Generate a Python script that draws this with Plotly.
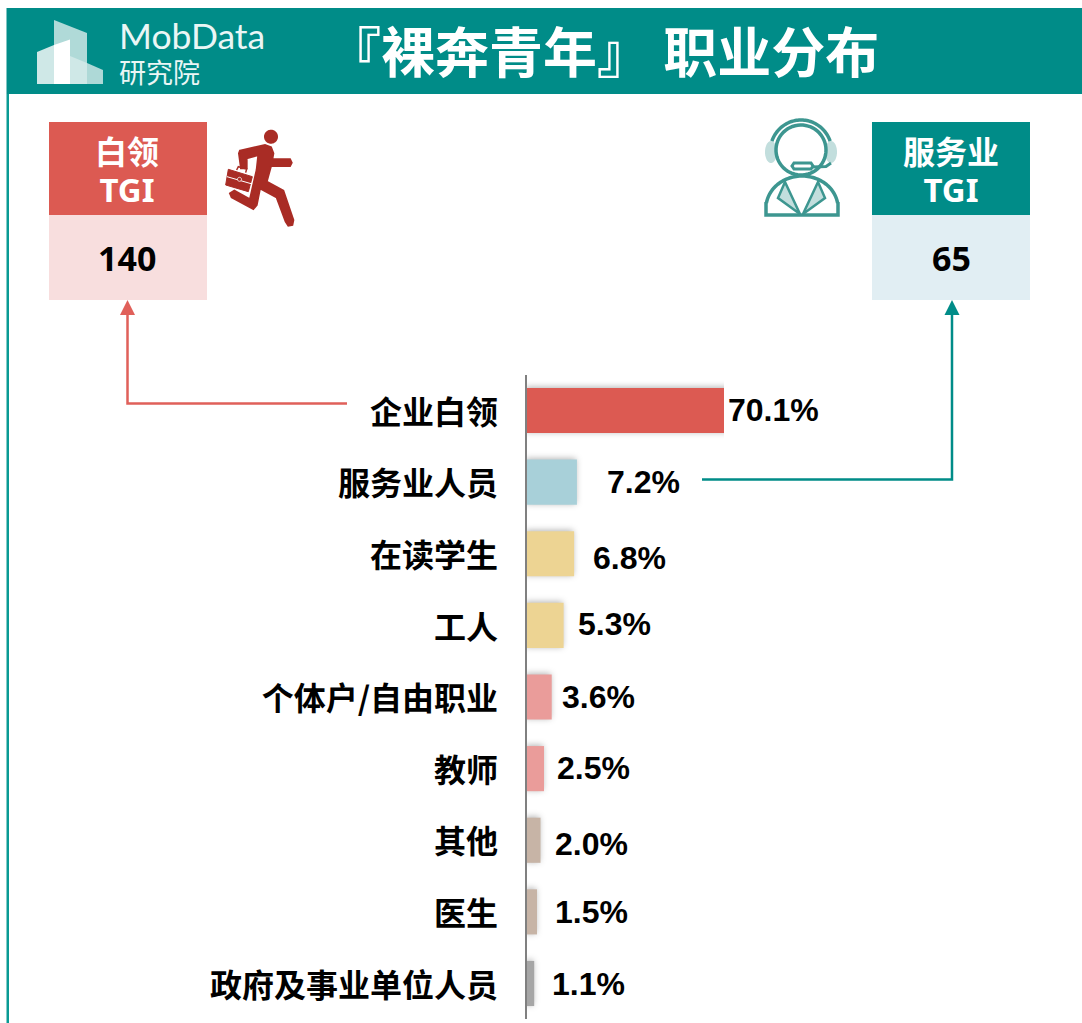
import numpy as np
import plotly.graph_objects as go

W, H = 1082, 1023

# ---- data ----
categories = ["企业白领", "服务业人员", "在读学生", "工人", "个体户/自由职业", "教师", "其他", "医生", "政府及事业单位人员"]
shares = [70.1, 7.2, 6.8, 5.3, 3.6, 2.5, 2.0, 1.5, 1.1]
value_labels = ["70.1%", "7.2%", "6.8%", "5.3%", "3.6%", "2.5%", "2.0%", "1.5%", "1.1%"]
bar_colors = ["#DC5A52", "#A8D0D9", "#EDD493", "#EDD493", "#EA9C9A", "#EA9C9A", "#C7B4A6", "#C7B4A6", "#A6A6A6"]
title_text = "『裸奔青年』 职业分布"
tgi_white_collar = "140"
tgi_service = "65"

# ---- placement of the hand-set labels (pixels) ----
label_left = [725.5, 604.5, 590.5, 575.5, 559.5, 555, 552.5, 552.5, 549.5]
label_mid = [410, 482, 558, 624, 697, 768, 844, 912, 984]

TEAL = "#008C88"
RED = "#DC5A52"
CJK = "Noto Sans CJK SC"
UI = "Noto Sans"
ARIAL = "Liberation Sans"


def px(x):
    return x / W


def py(y):
    return 1 - y / H


def poly(points, close=True):
    s = "M" + " L".join(f"{px(x):.5f},{py(y):.5f}" for x, y in points)
    return s + (" Z" if close else "")


shapes = []


def add_poly(points, fill=None, line=None, lw=0, close=True):
    shapes.append(dict(type="path", xref="paper", yref="paper", path=poly(points, close),
                       fillcolor=fill if fill else "rgba(0,0,0,0)",
                       line=dict(color=line if line else "rgba(0,0,0,0)", width=lw), layer="above"))


def add_rect(x0, y0, x1, y1, fill):
    add_poly([(x0, y0), (x1, y0), (x1, y1), (x0, y1)], fill=fill)


def ellipse(cx, cy, rx, ry, a0=0, a1=360, n=60):
    t = np.radians(np.linspace(a0, a1, n))
    return list(zip(cx + rx * np.cos(t), cy + ry * np.sin(t)))


# frame and header
add_rect(6.5, 8, W, 94, TEAL)
add_rect(6.5, 94, 9, H, "#0A9A94")

# logo
add_poly([(54, 20), (87, 33), (87, 70), (54, 70)], fill="#B0DAD8")
add_poly([(37, 52), (54, 45), (54, 84), (37, 84)], fill="#CFE8E7")
add_poly([(54, 45), (70, 39.5), (70, 84), (54, 84)], fill="#FFFFFF")
add_poly([(70, 56), (87, 63), (87, 84), (70, 84)], fill="#CFE8E7")
add_poly([(87, 63), (103, 70), (103, 84), (87, 84)], fill="#AED9D7")

# TGI boxes
add_rect(49, 122, 207, 215, RED)
add_rect(49, 215, 207, 300, "#F8DEDE")
add_rect(872, 122, 1030, 215, TEAL)
add_rect(872, 215, 1030, 300, "#E1EEF3")

# connectors
add_poly([(347, 403.5), (127.5, 403.5), (127.5, 312)], line="#E0605A", lw=2.5, close=False)
add_poly([(127.5, 300), (135, 315), (120, 315)], fill="#E0605A")
add_poly([(702, 479.5), (952, 479.5), (952, 312)], line=TEAL, lw=2.5, close=False)
add_poly([(952, 300), (959.5, 315), (944.5, 315)], fill=TEAL)


# runner icon (drawn on a 3x grid from 215,120)
def run(p):
    return [(215 + x / 3, 120 + y / 3) for x, y in p]


RUN = "#A92C25"
add_poly(ellipse(271, 136.7, 7, 7), fill=RUN)
add_poly(run([(75, 92), (150, 75), (168, 82), (175, 100), (172, 117), (225, 118), (230, 128), (225, 138),
              (168, 138), (155, 185), (205, 212), (235, 300), (232, 315), (220, 317), (212, 305), (185, 232),
              (135, 205), (125, 255), (115, 267), (50, 232), (45, 220), (58, 212), (105, 238), (125, 150),
              (130, 105), (95, 115), (95, 145), (78, 145), (72, 100)]), fill=RUN, line=RUN, lw=2)
add_poly(run([(40, 148), (112, 170), (100, 215), (32, 195)]), fill=RUN, line=RUN, lw=1)
add_poly(run([(65, 150), (70, 140), (95, 147), (92, 158)]), line=RUN, lw=1.5, close=False)
add_poly(run([(36, 170), (108, 191)]), line="#FFFFFF", lw=1, close=False)
add_poly(ellipse(239.5, 179.3, 2, 2, n=20), fill=RUN, line="#FFFFFF", lw=0.8)

# agent icon
AG = "#3D9690"
AGL = "#C2DEDD"
add_poly(ellipse(771, 152, 6, 11), fill=AGL)
add_poly(ellipse(831, 152, 6, 11), fill=AGL)
add_poly(ellipse(801, 150, 25, 25), fill="#FFFFFF", line=AG, lw=3.5)
add_poly(ellipse(801, 152, 31, 32, 200, 340), line=AG, lw=3.5, close=False)
add_poly([(766, 215), (766, 203)] + ellipse(802, 208, 36, 32, 190, 350) + [(838, 203), (838, 215)],
         fill="#FFFFFF", line=AG, lw=3.5)
add_poly([(785, 182), (800, 214), (778, 198)], fill=AGL, line=AG, lw=2.5)
add_poly([(818, 182), (803, 214), (825, 198)], fill=AGL, line=AG, lw=2.5)
add_poly([(794, 163), (811, 163), (813, 166), (811, 169), (794, 169), (792, 166)], fill="#FFFFFF", line=AG, lw=3)
add_poly([(812, 167), (826, 166.5), (831, 163)], line=AG, lw=3, close=False)

annotations = []


def note(text, x, y, size, color="#000000", family=CJK, weight=700, anchor="center", align="center"):
    annotations.append(dict(text=text, x=px(x), y=py(y), xref="paper", yref="paper", showarrow=False,
                            xanchor=anchor, yanchor="middle", align=align,
                            font=dict(family=family, size=size, color=color, weight=weight)))


def span(text, family, size):
    return f'<span style="font-family:\'{family}\';font-size:{size}px">{text}</span>'


note(title_text, 603, 50, 54, "#FFFFFF")
note(span("MobData", "Lato", 35.5) + "<br>" + span("研究院", CJK, 27), 116.5, 52.5, 26, "#EAF6F5", CJK, 400, "left", "left")
note(span("白领", CJK, 32) + "<br>" + span("TGI", UI, 33), 127, 170, 29, "#FFFFFF")
note(tgi_white_collar, 126.5, 258, 34, "#000000", UI)
note(span("服务业", CJK, 32) + "<br>" + span("TGI", UI, 33), 951, 170, 29, "#FFFFFF")
note(tgi_service, 951, 258, 34, "#000000", UI)

for text, left, mid in zip(value_labels, label_left, label_mid):
    note(text, left, mid, 32, "#000000", ARIAL, 700, "left")

fig = go.Figure(go.Bar(
    x=shares, y=categories, orientation="h",
    marker=dict(color=bar_colors, line=dict(width=0)),
    hoverinfo="skip",
))

fig.update_layout(
    width=W, height=H, autosize=False,
    margin=dict(l=0, r=0, t=0, b=0),
    paper_bgcolor="#FFFFFF", plot_bgcolor="rgba(0,0,0,0)",
    bargap=0.37, showlegend=False,
    shapes=shapes, annotations=annotations,
    xaxis=dict(domain=[px(526.5), px(724)], range=[0, 28.2], visible=False, fixedrange=True),
    yaxis=dict(domain=[py(1019.3), py(374.7)], categoryorder="array", categoryarray=categories,
               autorange="reversed", showline=True, linecolor="#808080", linewidth=2, ticks="",
               showgrid=False, zeroline=False, ticklabelstandoff=20, ticklabelshift=-2, fixedrange=True,
               tickfont=dict(family=CJK, size=32, color="#000000", weight=700)),
)

post = """
document.documentElement.style.overflow='hidden';
document.body.style.margin='0';
document.querySelectorAll('.bars .point path').forEach(function(p){
  p.style.filter='drop-shadow(-1px -1px 3px rgba(0,0,0,0.30))';
});
"""
fig.write_html("out.html", config={"displayModeBar": False, "staticPlot": True}, post_script=post)
